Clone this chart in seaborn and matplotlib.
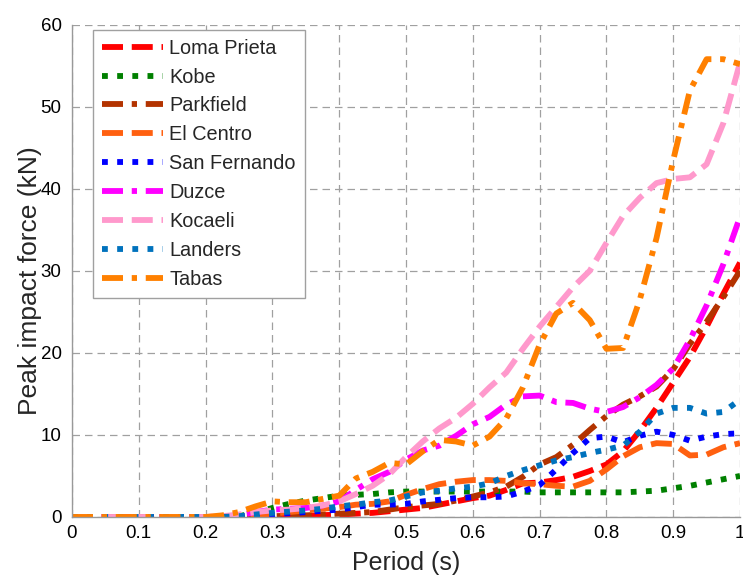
import numpy as np
import pandas as pd
import seaborn as sns
import matplotlib.pyplot as plt

# periode (s), samma rutnät för alla jordbävningar
period = [0, 0.025, 0.05, 0.075, 0.1, 0.125, 0.15, 0.175, 0.2, 0.225,
          0.25, 0.275, 0.3, 0.325, 0.35, 0.375, 0.4, 0.425, 0.45, 0.475,
          0.5, 0.525, 0.55, 0.575, 0.6, 0.625, 0.65, 0.675, 0.7, 0.725,
          0.75, 0.775, 0.8, 0.825, 0.85, 0.875, 0.9, 0.925, 0.95, 0.975, 1.0]

z = [0] * 9  # allt är noll upp till 0.2 s

loma_prieta = z + [0, 0, 0.02, 0.05, 0.1, 0.15, 0.22, 0.3, 0.4, 0.5, 0.7, 0.9, 1.1, 1.5, 1.9, 2.3,
                   2.6, 3.3, 4.1, 4.2, 4.5, 4.9, 5.6, 6.4, 8.0, 10.5, 13.3, 16.4, 19.5, 23.2, 27.2, 31.0]
kobe = z + [0, 0.1, 0.5, 1.1, 1.6, 2.0, 2.3, 2.6, 2.7, 2.8, 3.0, 3.1, 3.1, 3.1, 3.1, 3.1,
            3.1, 3.1, 3.1, 3.0, 3.0, 3.0, 3.0, 3.0, 3.0, 3.1, 3.2, 3.5, 3.8, 4.2, 4.6, 5.0]
parkfield = z + [0, 0, 0.05, 0.1, 0.15, 0.2, 0.3, 0.4, 0.5, 0.6, 0.9, 1.2, 1.4, 1.6, 2.0, 2.5,
                 3.0, 3.7, 4.9, 6.4, 7.3, 8.8, 10.6, 12.3, 13.7, 14.7, 15.9, 18.0, 21.1, 23.8, 26.8, 30.0]
el_centro = z + [0, 0.1, 0.25, 0.4, 0.6, 0.8, 1.0, 1.2, 1.5, 1.6, 1.9, 2.7, 3.4, 4.0, 4.3, 4.5,
                 4.5, 4.4, 4.1, 4.0, 3.8, 3.7, 4.4, 5.8, 7.4, 8.5, 9.0, 8.9, 7.5, 7.6, 8.5, 9.0]
san_fernando = z + [0, 0.1, 0.2, 0.3, 0.45, 0.6, 0.75, 0.9, 1.2, 1.5, 1.5, 1.6, 1.9, 2.1, 2.3, 2.4,
                    2.4, 2.5, 3.1, 3.9, 5.8, 7.8, 9.6, 9.8, 9.1, 9.9, 10.4, 10.0, 9.3, 9.8, 10.1, 10.2]
duzce = z + [0.05, 0.2, 0.6, 0.9, 1.0, 1.1, 1.4, 1.9, 3.3, 4.6, 5.5, 7.0, 8.1, 8.7, 9.9, 11.3,
             12.2, 13.7, 14.7, 14.8, 14.0, 13.9, 13.2, 12.8, 13.4, 14.6, 16.1, 18.1, 21.6, 25.8, 30.8, 36.6]
kocaeli = z + [0.1, 0.3, 0.6, 0.8, 0.9, 1.1, 1.4, 1.9, 2.8, 3.8, 5.2, 7.3, 9.2, 10.8, 12.1, 13.8,
               15.8, 17.6, 20.5, 23.2, 25.6, 28.0, 30.0, 33.4, 36.7, 38.9, 40.7, 41.2, 41.4, 43.0, 48.0, 55.4]
landers = z + [0, 0.1, 0.3, 0.5, 0.65, 0.8, 1.0, 1.3, 1.5, 1.8, 2.0, 2.5, 3.0, 3.2, 3.5, 3.7,
               4.1, 5.0, 5.7, 6.3, 6.9, 7.3, 7.8, 8.2, 8.7, 10.4, 12.6, 13.3, 13.3, 12.6, 12.8, 14.3]
tabas = z + [0.2, 0.6, 1.3, 1.9, 1.8, 1.8, 2.2, 2.6, 4.7, 5.5, 6.6, 6.4, 8.0, 9.4, 9.2, 8.7,
             9.8, 12.0, 15.8, 21.0, 24.8, 26.1, 24.0, 20.5, 20.6, 26.5, 34.0, 43.5, 52.0, 55.8, 55.8, 55.2]

records = ['Loma Prieta', 'Kobe', 'Parkfield', 'El Centro', 'San Fernando',
           'Duzce', 'Kocaeli', 'Landers', 'Tabas']
colors = ['#ff0000', '#008000', '#b33300', '#ff6010', '#0000ff',
          '#ff00ff', '#ff99cc', '#0072bd', '#ff8000']

df = pd.DataFrame({'Period': period,
                   'Loma Prieta': loma_prieta, 'Kobe': kobe, 'Parkfield': parkfield,
                   'El Centro': el_centro, 'San Fernando': san_fernando, 'Duzce': duzce,
                   'Kocaeli': kocaeli, 'Landers': landers, 'Tabas': tabas})
long_df = df.melt(id_vars='Period', var_name='Record', value_name='Force')

dashed = (3.6, 1.5)
dotted = (1.0, 1.6)
dashdot = (3.6, 1.5, 0.9, 1.5)
styles = [dashed, dotted, dashdot, dashed, dotted, dashdot, dashed, dotted, dashdot]

sns.set_style('white')
plt.rcParams['font.family'] = ['Liberation Sans', 'DejaVu Sans']

fig = plt.figure(figsize=(7.43, 5.75), dpi=100)
ax = fig.add_axes([0.0969, 0.1009, 0.8991, 0.8561])

sns.lineplot(data=long_df, x='Period', y='Force', hue='Record', style='Record',
             hue_order=records, style_order=records,
             palette=dict(zip(records, colors)), dashes=dict(zip(records, styles)),
             linewidth=4.2, ax=ax)

ax.set_xlim(0, 1)
ax.set_ylim(0, 60)
ax.set_xticks(np.arange(0, 1.01, 0.1))
ax.set_xticklabels(['0', '0.1', '0.2', '0.3', '0.4', '0.5', '0.6', '0.7', '0.8', '0.9', '1'])
ax.set_yticks(range(0, 61, 10))
ax.tick_params(labelsize=13.5, colors='#999999', labelcolor='black', length=4, width=1)
ax.tick_params(axis='x', length=0, pad=6)

ax.grid(True, color='#a0a0a0', linestyle=(0, (6, 4)), linewidth=0.9)
for side in ['top', 'right']:
    ax.spines[side].set_visible(False)
for side in ['left', 'bottom']:
    ax.spines[side].set_color('#999999')
    ax.spines[side].set_linewidth(1)

ax.set_xlabel('Period (s)', fontsize=18, labelpad=6)
ax.set_ylabel('Peak impact force (kN)', fontsize=19)
ax.yaxis.set_label_coords(-0.045, 0.48)

sns.move_legend(ax, 'upper left', bbox_to_anchor=(0.031, 0.99), borderaxespad=0,
                title=None, frameon=True, fancybox=False, fontsize=14.3,
                handlelength=3.1, handletextpad=0.3, labelspacing=0.5, borderpad=0.45)
leg = ax.get_legend()
leg.get_frame().set_edgecolor('#a0a0a0')
leg.get_frame().set_linewidth(1)
leg.get_frame().set_alpha(1)
for line in leg.get_lines():
    line.set_linewidth(4.2)

fig.savefig('out.png', dpi=100)
